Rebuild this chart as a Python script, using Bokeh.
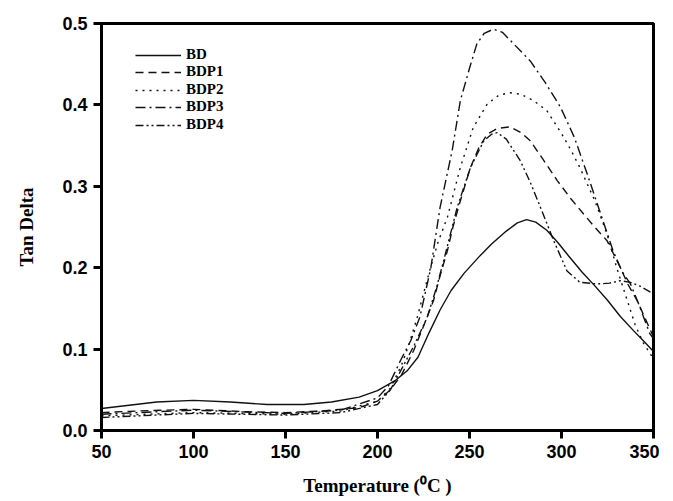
from bokeh.plotting import figure
from bokeh.models import Range1d, FixedTicker, Legend, LegendItem
from bokeh.embed import file_html
from bokeh.resources import INLINE

# ---- data ----
bd_t = [50, 65, 80, 100, 120, 140, 160, 175, 190, 200, 210, 216, 222, 228, 234, 240, 247, 255, 262, 270,
        276, 281, 286, 292, 298, 304, 311, 318, 325, 332, 339, 345, 350]
bd_v = [0.027, 0.031, 0.035, 0.037, 0.035, 0.032, 0.032, 0.035, 0.041, 0.049, 0.062, 0.073, 0.090, 0.120,
        0.148, 0.172, 0.193, 0.213, 0.229, 0.245, 0.255, 0.259, 0.256, 0.246, 0.231, 0.214, 0.195, 0.178,
        0.160, 0.140, 0.123, 0.109, 0.097]

bdp1_t = [50, 70, 100, 130, 150, 170, 190, 200, 207, 213, 219.6, 225, 230.5, 234, 238, 241, 245, 250.5, 255,
          259.6, 265, 272, 278, 283, 290, 297.7, 305, 312, 318, 324.8, 332, 336, 341, 345, 350]
bdp1_v = [0.022, 0.024, 0.026, 0.023, 0.022, 0.024, 0.028, 0.036, 0.050, 0.068, 0.098, 0.128, 0.160, 0.190,
          0.221, 0.250, 0.282, 0.323, 0.347, 0.364, 0.371, 0.373, 0.366, 0.356, 0.333, 0.307, 0.285, 0.266,
          0.250, 0.233, 0.200, 0.180, 0.160, 0.140, 0.115]

bdp2_t = [50, 100, 150, 180, 200, 207, 213, 217, 221.6, 225, 228.8, 233, 238, 245, 252, 259.6, 266, 272, 278,
          285, 292, 300, 305, 310, 318, 324.8, 330, 335.7, 340, 344.6, 350]
bdp2_v = [0.018, 0.022, 0.020, 0.024, 0.036, 0.052, 0.080, 0.105, 0.139, 0.168, 0.200, 0.232, 0.262, 0.323,
          0.372, 0.401, 0.412, 0.415, 0.413, 0.405, 0.393, 0.365, 0.345, 0.323, 0.283, 0.241, 0.200, 0.160,
          0.130, 0.107, 0.088]

bdp3_t = [50, 100, 150, 180, 200, 206, 212.5, 218, 223, 229, 234, 240.6, 245, 250, 254, 258, 263, 268, 274,
          283, 291, 299.5, 307, 314, 321, 328, 333, 337.5, 342, 348, 350]
bdp3_v = [0.020, 0.025, 0.021, 0.025, 0.040, 0.055, 0.086, 0.110, 0.139, 0.200, 0.274, 0.344, 0.405, 0.445,
          0.475, 0.488, 0.493, 0.489, 0.475, 0.454, 0.428, 0.397, 0.360, 0.315, 0.268, 0.221, 0.195, 0.180,
          0.155, 0.119, 0.113]

bdp4_t = [50, 100, 150, 180, 200, 207, 213, 220, 227, 232, 236, 243.3, 250.5, 257.8, 262, 265, 270, 277.7,
          283, 288.6, 295.8, 303, 310, 319.4, 326, 332, 337.5, 343, 348.4, 350]
bdp4_v = [0.016, 0.021, 0.019, 0.022, 0.032, 0.050, 0.075, 0.105, 0.139, 0.175, 0.209, 0.274, 0.323, 0.356,
          0.364, 0.366, 0.358, 0.331, 0.305, 0.274, 0.233, 0.196, 0.182, 0.180, 0.181, 0.184, 0.182, 0.177,
          0.170, 0.168]

series_names = ["BD", "BDP1", "BDP2", "BDP3", "BDP4"]
x_ticks = [50, 100, 150, 200, 250, 300, 350]
y_ticks = [0.0, 0.1, 0.2, 0.3, 0.4, 0.5]
y_tick_labels = ["0.0", "0.1", "0.2", "0.3", "0.4", "0.5"]

# ---- figure ----
p = figure(frame_width=552, frame_height=407, output_backend="svg", toolbar_location=None,
           x_range=Range1d(50, 350), y_range=Range1d(0, 0.5),
           min_border_left=101, min_border_top=23, min_border_right=6, min_border_bottom=68)
p.background_fill_color = "white"
p.border_fill_color = "white"
p.xgrid.visible = False
p.ygrid.visible = False
p.outline_line_color = "black"
p.outline_line_width = 3

xs = [bd_t, bdp1_t, bdp2_t, bdp3_t, bdp4_t]
ys = [bd_v, bdp1_v, bdp2_v, bdp3_v, bdp4_v]
dashes = ["solid", "8 5", "2 5", "10 4 2 4", "8 3 2 3 2 3"]
renderers = []
for x, y, d in zip(xs, ys, dashes):
    r = p.line(x, y, line_color="#111111", line_width=1.4, line_dash=d)
    renderers.append(r)

# one single-row legend per series so that the rows sit as tightly as in the original
row_offsets = [367, 350, 332, 315, 297]
for n, r, off in zip(series_names, renderers, row_offsets):
    lg = Legend(items=[LegendItem(label=n, renderers=[r])],
                location=(34, off), padding=0, spacing=0, margin=0,
                glyph_width=46, glyph_height=14, label_height=14, label_standoff=5,
                label_text_font="Liberation Serif", label_text_font_style="bold",
                label_text_font_size="15px", label_text_color="black",
                border_line_alpha=0, background_fill_alpha=0)
    p.add_layout(lg, "center")

for ax in (p.xaxis[0], p.yaxis[0]):
    ax.axis_line_width = 3
    ax.axis_line_color = "black"
    ax.major_tick_line_width = 3
    ax.major_tick_line_color = "black"
    ax.major_tick_out = 8
    ax.major_tick_in = 0
    ax.minor_tick_line_color = None
    ax.major_label_text_font = "Liberation Sans"
    ax.major_label_text_font_style = "bold"
    ax.major_label_text_font_size = "18px"
    ax.major_label_text_color = "black"
    ax.axis_label_text_font = "Liberation Serif"
    ax.axis_label_text_font_style = "bold"
    ax.axis_label_text_font_size = "19px"
    ax.axis_label_text_color = "black"

p.xaxis.ticker = FixedTicker(ticks=x_ticks)
p.yaxis.ticker = FixedTicker(ticks=y_ticks)
p.yaxis.major_label_overrides = {t: l for t, l in zip(y_ticks, y_tick_labels)}
p.xaxis.axis_label = "Temperature (\u2070C )"
p.yaxis.axis_label = "Tan Delta"
p.xaxis.major_label_standoff = 6
p.xaxis.axis_label_standoff = 14
p.yaxis.major_label_standoff = 6
p.yaxis.axis_label_standoff = 22

open("out.html", "w").write(file_html(p, INLINE))
